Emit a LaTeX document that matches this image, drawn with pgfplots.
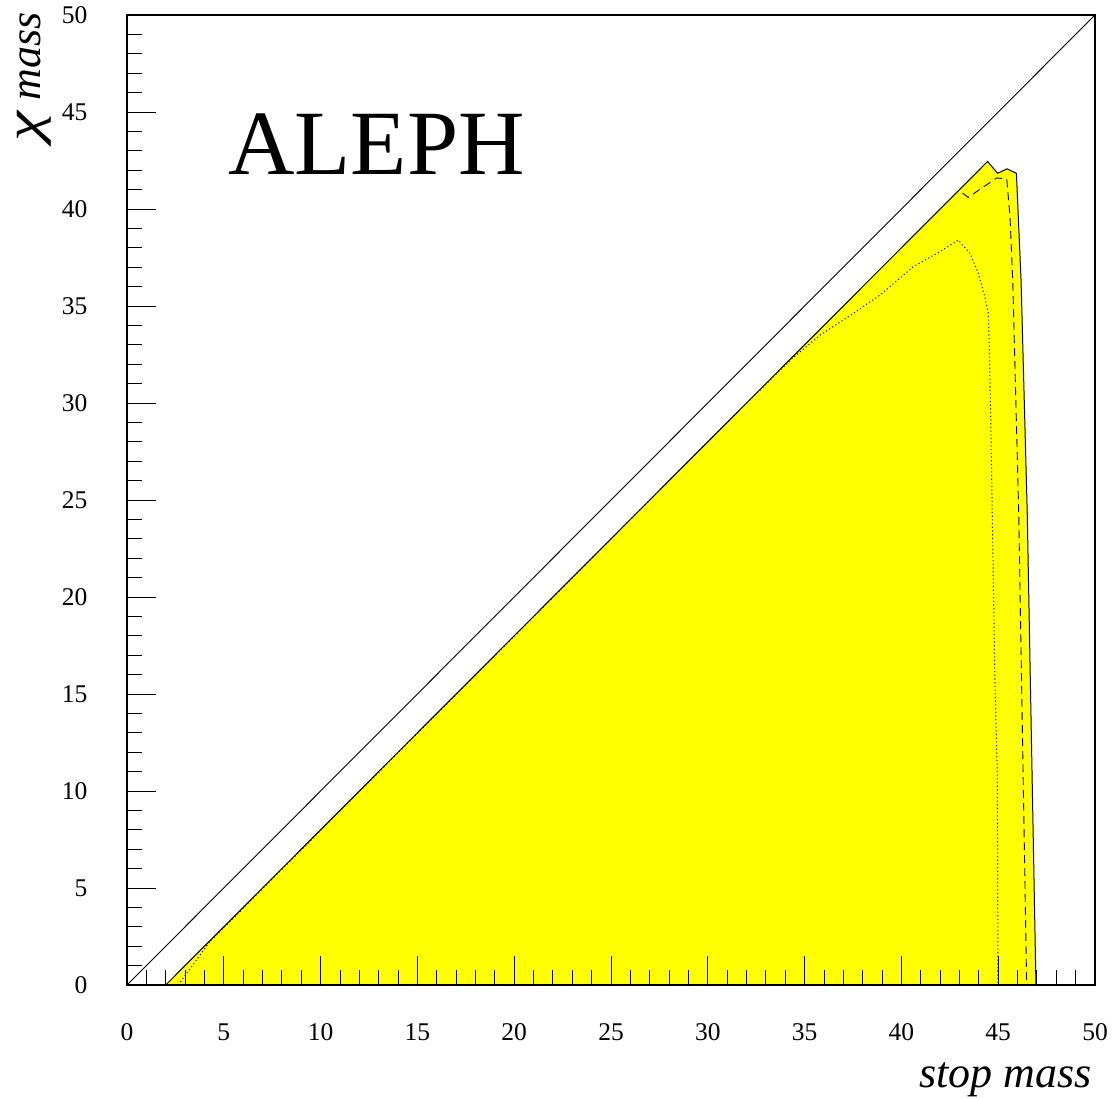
\documentclass[border=0pt]{standalone}
\usepackage{pgfplots}
\pgfplotsset{compat=1.18}
\usepackage{fontspec}
\setmainfont{Liberation Serif}
\begin{document}
\begin{tikzpicture}
\path[use as bounding box] (-127pt,-113pt) rectangle (988pt,985pt);
\begin{axis}[
  at={(0,0)}, anchor=south west,
  scale only axis, width=968pt, height=970pt,
  xmin=0, xmax=50, ymin=0, ymax=50,
  xtick={0,5,...,50}, ytick={0,5,...,50},
  minor tick num=4,
  xtick pos=bottom, ytick pos=left,
  tick align=inside,
  major tick length=29pt, minor tick length=15pt,
  tick style={black, line width=0.9pt},
  axis line style={line width=1.3pt},
  axis on top,
  /pgf/number format/assume math mode=true,
  ticklabel style={font=\fontsize{25.5}{25.5}\selectfont},
  xticklabel style={anchor=north, yshift=-35pt},
  yticklabel style={anchor=east, xshift=-36pt},
  xlabel={\textit{stop mass}},
  ylabel={\textit{\scalebox{1.55}[1.15]{χ} mass}},
  every axis x label/.style={at={(rel axis cs:1,0)}, anchor=base east, yshift=-102pt, xshift=-3pt, inner sep=0pt, font=\fontsize{44}{44}\selectfont},
  every axis y label/.style={at={(rel axis cs:0,1)}, xshift=-86pt, yshift=3pt, anchor=base east, rotate=90, inner sep=0pt, font=\fontsize{44}{44}\selectfont},
]
% excluded region (filled)
\addplot[fill={rgb,255:red,255;green,255;blue,0}, draw=none] coordinates {
  (2,0) (44.45,42.45) (44.97,41.84) (45.46,42.07) (45.94,41.84)
  (46.18,36.34) (46.50,24.33) (46.95,0)} -- cycle;
% dotted contour
\addplot[black, line width=1pt, dash pattern=on 1.1pt off 2.6pt] coordinates {
  (2.65,0) (4.29,2.25) (31.3,29.3) (32.7,30.67) (34.25,32.2) (35.8,33.5)
  (37.52,34.62) (38.9,35.57) (40.62,37.03) (41.99,37.8) (42.94,38.40)
  (43.54,37.72) (43.97,36.69) (44.30,35.5) (44.49,34.62) (44.54,32.9)
  (44.61,29.48) (44.72,22.59) (44.83,15.72) (44.95,11.08) (44.99,0)};
% dashed contour
\addplot[black, line width=0.9pt, dash pattern=on 8pt off 5pt] coordinates {
  (43.16,40.82) (43.45,40.6) (44.92,41.6) (45.44,41.55) (45.61,39.6)
  (45.75,36.34) (46.06,24.33) (46.47,0)};
% solid contour
\addplot[black, line width=1pt] coordinates {
  (2,0) (44.45,42.45) (44.97,41.84) (45.46,42.07) (45.94,41.84)
  (46.18,36.34) (46.50,24.33) (46.95,0)};
% kinematic limit
\addplot[black, line width=0.9pt] coordinates {(0,0) (50,50)};
\node[anchor=base west, inner sep=0pt, font=\fontsize{92}{92}\selectfont] at (axis cs:5.22,41.8) {ALEPH};
\end{axis}
\end{tikzpicture}
\end{document}
